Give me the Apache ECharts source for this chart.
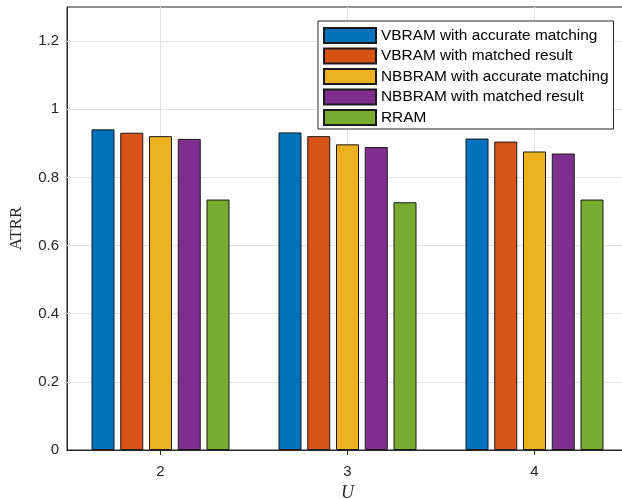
<!DOCTYPE html>
<html>
<head>
<meta charset="utf-8">
<script src="https://cdn.jsdelivr.net/npm/echarts@6/dist/echarts.min.js"></script>
<style>
html,body{margin:0;padding:0;background:#fff;}
#chart{width:622px;height:499px;}
</style>
</head>
<body>
<div id="chart"></div>
<script>
const categories = [2, 3, 4];
const seriesNames = [
  'VBRAM with accurate matching',
  'VBRAM with matched result',
  'NBBRAM with accurate matching',
  'NBBRAM with matched result',
  'RRAM'
];
const vbramAccurate = [0.941, 0.932, 0.914];
const vbramMatched = [0.931, 0.921, 0.905];
const nbbramAccurate = [0.921, 0.897, 0.876];
const nbbramMatched = [0.913, 0.889, 0.870];
const rram = [0.735, 0.727, 0.735];
const yTicks = [0, 0.2, 0.4, 0.6, 0.8, 1, 1.2];

const values = [vbramAccurate, vbramMatched, nbbramAccurate, nbbramMatched, rram];
const colors = ['#0072BD', '#D95319', '#EDB120', '#7E2F8E', '#77AC30'];
const axisColor = '#262626';
const gridColor = '#e3e3e3';
const font = 'Liberation Sans, Arial, Helvetica, sans-serif';

const chart = echarts.init(document.getElementById('chart'), null, {renderer: 'canvas'});

const barSeries = values.map((vals, i) => ({
  name: seriesNames[i],
  type: 'bar',
  data: categories.map((c, j) => [c, vals[j]]),
  barWidth: 23,
  barGap: '25%',
  z: 3,
  itemStyle: {color: colors[i], borderColor: '#1a1a1a', borderWidth: 1},
  emphasis: {disabled: true}
}));

function gridLines(data) {
  return {
    type: 'line',
    data: [],
    z: 1,
    silent: true,
    markLine: {
      silent: true,
      z: 1,
      symbol: 'none',
      label: {show: false},
      emphasis: {disabled: true},
      lineStyle: {color: gridColor, type: 'solid', width: 1},
      data: data
    }
  };
}

chart.setOption({
  animation: false,
  backgroundColor: '#fff',
  grid: {
    left: 67, right: -6, top: 7, bottom: 49,
    outerBoundsMode: 'none',
    containLabel: false,
    show: true, borderColor: axisColor, borderWidth: 1, backgroundColor: 'transparent'
  },
  legend: {
    data: seriesNames.map(n => ({name: n, icon: 'rect'})),
    orient: 'vertical',
    left: 318, top: 21,
    itemWidth: 52, itemHeight: 15, itemGap: 3.5,
    padding: [6, 5, 3, 5],
    backgroundColor: '#fff',
    borderColor: axisColor, borderWidth: 1,
    textStyle: {fontFamily: font, fontSize: 15.4, color: '#000', lineHeight: 15},
    selectedMode: false
  },
  xAxis: [{
    type: 'value', min: 1.5, max: 4.5, position: 'bottom',
    name: 'U', nameLocation: 'middle', nameGap: 27,
    nameTextStyle: {fontFamily: 'Liberation Serif, Times New Roman, serif', fontStyle: 'italic', fontSize: 18, color: axisColor},
    axisLine: {show: true, lineStyle: {color: axisColor}},
    axisTick: {show: true, inside: true, length: 5, customValues: categories, lineStyle: {color: axisColor}},
    axisLabel: {show: true, customValues: categories, margin: 14, fontFamily: font, fontSize: 15, color: axisColor},
    splitLine: {show: false}
  }, {
    type: 'value', min: 1.5, max: 4.5, position: 'top',
    axisLine: {show: true, lineStyle: {color: axisColor}},
    axisTick: {show: true, inside: true, length: 5, customValues: categories, lineStyle: {color: axisColor}},
    axisLabel: {show: false},
    splitLine: {show: false}
  }],
  yAxis: [{
    type: 'value', min: 0, max: 1.3, position: 'left',
    name: 'ATRR', nameLocation: 'middle', nameGap: 42, nameRotate: 90,
    nameTextStyle: {fontFamily: 'Liberation Serif, Times New Roman, serif', fontSize: 17, color: axisColor},
    axisLine: {show: true, lineStyle: {color: axisColor}},
    axisTick: {show: true, inside: true, length: 5, customValues: yTicks, lineStyle: {color: axisColor}},
    axisLabel: {show: true, customValues: yTicks, margin: 8, fontFamily: font, fontSize: 15, color: axisColor,
      formatter: v => String(Math.round(v * 10) / 10)},
    splitLine: {show: false}
  }, {
    type: 'value', min: 0, max: 1.3, position: 'right',
    axisLine: {show: true, lineStyle: {color: axisColor}},
    axisTick: {show: true, inside: true, length: 5, customValues: yTicks, lineStyle: {color: axisColor}},
    axisLabel: {show: false},
    splitLine: {show: false}
  }],
  series: [
    gridLines(categories.map(c => ({xAxis: c}))),
    gridLines(yTicks.filter(v => v > 0).map(v => ({yAxis: v})))
  ].concat(barSeries)
});
</script>
</body>
</html>
